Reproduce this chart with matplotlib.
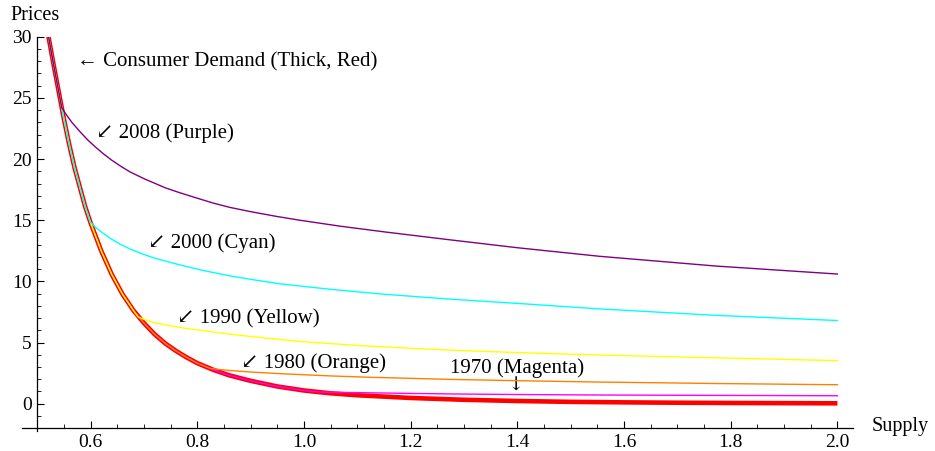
import matplotlib
matplotlib.use("Agg")
import matplotlib.pyplot as plt
from matplotlib.ticker import MultipleLocator, FixedLocator

plt.rcParams['font.family'] = ['Liberation Serif', 'DejaVu Serif', 'DejaVu Sans']

# Consumer demand curve (price vs. supply)
demand_x = [0.52, 0.53, 0.54, 0.55, 0.56, 0.57, 0.58, 0.59, 0.60, 0.62, 0.64,
            0.66, 0.68, 0.70, 0.72, 0.74, 0.76, 0.78, 0.80, 0.83, 0.86, 0.90,
            0.95, 1.00, 1.03, 1.05, 1.10, 1.20, 1.30, 1.40, 1.50, 1.60, 1.70,
            1.80, 1.90, 2.00]
demand_y = [30.3, 27.9, 25.6, 23.3, 21.2, 19.3, 17.7, 16.1, 14.8, 12.5, 10.55,
            8.95, 7.65, 6.6, 5.68, 4.93, 4.32, 3.79, 3.32, 2.77, 2.32, 1.87,
            1.41, 1.08, 0.94, 0.85, 0.69, 0.47, 0.32, 0.22, 0.15, 0.11, 0.08,
            0.06, 0.045, 0.03]

# Supply curves by year, from the point where each leaves the demand curve
x_2008 = [0.546, 0.555, 0.565, 0.58, 0.595, 0.61, 0.625, 0.64, 0.657, 0.674,
          0.70, 0.74, 0.767, 0.80, 0.83, 0.861, 0.90, 0.95, 0.992, 1.07,
          1.15, 1.273, 1.40, 1.554, 1.773, 2.00]
y_2008 = [24.2, 23.6, 23.0, 22.25, 21.55, 20.95, 20.4, 19.9, 19.4, 18.95,
          18.4, 17.65, 17.25, 16.8, 16.4, 16.05, 15.7, 15.3, 15.0, 14.5,
          14.05, 13.4, 12.75, 12.05, 11.25, 10.6]

x_2000 = [0.601, 0.61, 0.62, 0.636, 0.655, 0.674, 0.70, 0.72, 0.767, 0.81,
          0.861, 0.91, 0.955, 1.05, 1.15, 1.273, 1.40, 1.554, 1.773, 2.00]
y_2000 = [14.8, 14.4, 14.05, 13.55, 13.05, 12.65, 12.2, 11.9, 11.35, 10.9,
          10.45, 10.1, 9.8, 9.35, 8.95, 8.55, 8.2, 7.75, 7.22, 6.8]

x_1990 = [0.689, 0.70, 0.72, 0.75, 0.78, 0.84, 0.905, 0.993, 1.123, 1.273,
          1.40, 1.554, 1.773, 2.00]
y_1990 = [7.1, 6.9, 6.62, 6.36, 6.15, 5.8, 5.47, 5.08, 4.7, 4.38,
          4.18, 3.98, 3.75, 3.52]

x_1980 = [0.824, 0.84, 0.86, 0.90, 0.967, 1.05, 1.123, 1.273, 1.40, 1.554,
          1.773, 2.00]
y_1980 = [2.89, 2.8, 2.72, 2.59, 2.43, 2.27, 2.16, 1.99, 1.88, 1.77,
          1.65, 1.55]

x_1970 = [1.03, 1.08, 1.123, 1.20, 1.273, 1.40, 1.554, 1.773, 2.00]
y_1970 = [0.95, 0.92, 0.89, 0.84, 0.80, 0.75, 0.71, 0.68, 0.65]

supply = [
    (x_1970, y_1970, '#ff00ff'),
    (x_1980, y_1980, '#ff8000'),
    (x_1990, y_1990, '#ffff00'),
    (x_2000, y_2000, '#00ffff'),
    (x_2008, y_2008, '#800080'),
]

fig = plt.figure(figsize=(9.35, 4.51), dpi=100)
ax = fig.add_axes([0.0232, 0.0452, 0.889, 0.8734])

ax.plot(demand_x, demand_y, color='#ff0000', lw=3.3, zorder=2,
        solid_capstyle='butt')

# each supply curve follows demand until its own branch point
for i, (sx, sy, col) in enumerate(supply):
    px = [d for d in demand_x if d < sx[0]] + list(sx)
    py = [v for d, v in zip(demand_x, demand_y) if d < sx[0]] + list(sy)
    ax.plot(px, py, color=col, lw=1.0, zorder=3 + i)

ax.set_xlim(0.471, 2.029)
ax.set_ylim(-2.2, 30)

for s in ('top', 'right'):
    ax.spines[s].set_visible(False)
ax.spines['left'].set_position(('data', 0.5))
ax.spines['bottom'].set_position(('data', -2))
for s in ('left', 'bottom'):
    ax.spines[s].set_linewidth(0.9)

ax.xaxis.set_major_locator(FixedLocator([0.6, 0.8, 1.0, 1.2, 1.4, 1.6, 1.8, 2.0]))
ax.xaxis.set_minor_locator(FixedLocator([0.55 + 0.05 * k for k in range(30)]))
ax.yaxis.set_major_locator(MultipleLocator(5))
ax.yaxis.set_minor_locator(MultipleLocator(1))
ax.set_yticks([0, 5, 10, 15, 20, 25, 30])
ax.set_xticklabels(['0.6', '0.8', '1.0', '1.2', '1.4', '1.6', '1.8', '2.0'])

ax.tick_params(which='major', direction='in', length=5, width=0.8, labelsize=14)
ax.tick_params(which='minor', direction='in', length=3, width=0.6)
ax.tick_params(axis='y', pad=4)
ax.tick_params(axis='x', pad=4)

fig.text(10 / 935, 1 - 16 / 451, 'Prices', fontsize=14.5, ha='left', va='center')
fig.text(872 / 935, 1 - 427 / 451, 'Supply', fontsize=14.5, ha='left', va='center')

fs = 15
ax.text(0.5738, 27.96, '\u2190 Consumer Demand (Thick, Red)', fontsize=fs,
        ha='left', va='center')
ax.text(0.6094, 22.11, '\u2199 2008 (Purple)', fontsize=fs, ha='left', va='center')
ax.text(0.708, 13.12, '\u2199 2000 (Cyan)', fontsize=fs, ha='left', va='center')
ax.text(0.7612, 6.93, '\u2199 1990 (Yellow)', fontsize=fs, ha='left', va='center')
ax.text(0.8812, 3.35, '\u2199 1980 (Orange)', fontsize=fs, ha='left', va='center')
ax.text(1.399, 2.9, '1970 (Magenta)', fontsize=fs, ha='center', va='center')
ax.text(1.397, 1.5, '\u2193', fontsize=14, ha='center', va='center',
        family=['DejaVu Serif'])

fig.savefig('out.png', dpi=100)
